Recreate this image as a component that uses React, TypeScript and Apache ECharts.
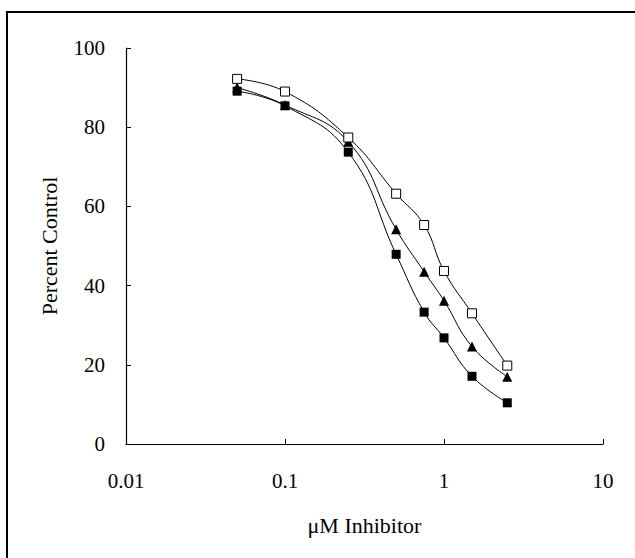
import React, { useEffect, useRef } from "react";
import * as echarts from "echarts";

const concentrations = [0.05, 0.1, 0.25, 0.5, 0.75, 1, 1.5, 2.5];
const openSquare = [92.2, 89.0, 77.4, 63.2, 55.3, 43.7, 33.0, 19.8];
const triangle = [90.0, 85.6, 76.3, 54.2, 43.5, 36.2, 24.6, 17.0];
const filledSquare = [89.1, 85.4, 73.7, 47.9, 33.3, 26.8, 17.1, 10.4];
const xTicks = [0.01, 0.1, 1, 10];
const yTicks = [0, 20, 40, 60, 80, 100];

const FONT = "'Liberation Serif', 'Times New Roman', serif";

const pairs = (ys: number[]) => concentrations.map((x, i) => [x, ys[i]]);

export default function App() {
  const ref = useRef<HTMLDivElement>(null);
  useEffect(() => {
    if (!ref.current) return;
    const chart = echarts.init(ref.current, undefined, { renderer: "svg" });
    const lineBase = {
      type: "line" as const,
      smooth: 0.45,
      lineStyle: { color: "#000", width: 1 },
      symbolSize: 9,
    };
    chart.setOption({
      animation: false,
      backgroundColor: "#fff",
      grid: { left: 126, right: 32, top: 48, bottom: 114 },
      graphic: [
        {
          type: "rect",
          shape: { x: 7, y: 12, width: 640, height: 560 },
          style: { fill: "none", stroke: "#000", lineWidth: 2 },
          silent: true,
        },
      ],
      xAxis: {
        type: "log",
        logBase: 10,
        min: 0.01,
        max: 10,
        name: "\u03bcM Inhibitor",
        nameLocation: "middle",
        nameGap: 70,
        nameTextStyle: { fontFamily: FONT, fontSize: 22, color: "#000" },
        axisLine: { lineStyle: { color: "#000", width: 1.2 } },
        axisTick: { inside: true, length: 5, lineStyle: { color: "#000" } },
        splitLine: { show: false },
        minorTick: { show: false },
        axisLabel: {
          fontFamily: FONT,
          fontSize: 21,
          color: "#000",
          margin: 26,
          formatter: (v: number) => {
            const t = xTicks.find((k) => Math.abs(k - v) / k < 1e-6);
            return t === undefined ? "" : String(t);
          },
        },
      },
      yAxis: {
        type: "value",
        min: yTicks[0],
        max: yTicks[yTicks.length - 1],
        interval: 20,
        name: "Percent Control",
        nameLocation: "middle",
        nameGap: 66,
        nameTextStyle: { fontFamily: FONT, fontSize: 22, color: "#000" },
        axisLine: { show: true, lineStyle: { color: "#000", width: 1.2 } },
        axisTick: { show: true, inside: true, length: 5, lineStyle: { color: "#000" } },
        splitLine: { show: false },
        axisLabel: { fontFamily: FONT, fontSize: 21, color: "#000", margin: 21 },
      },
      series: [
        {
          ...lineBase,
          name: "triangle",
          data: pairs(triangle),
          symbol: "triangle",
          symbolSize: 10,
          itemStyle: { color: "#000", borderColor: "#000", borderWidth: 0 },
        },
        {
          ...lineBase,
          name: "filled",
          data: pairs(filledSquare),
          symbol: "rect",
          itemStyle: { color: "#000", borderColor: "#000", borderWidth: 0 },
        },
        {
          ...lineBase,
          name: "open",
          data: pairs(openSquare),
          symbol: "rect",
          itemStyle: { color: "#fff", borderColor: "#000", borderWidth: 1 },
        },
      ],
    });
    return () => chart.dispose();
  }, []);
  return (
    <div
      ref={ref}
      style={{ position: "absolute", left: 0, top: 0, width: 635, height: 558 }}
    />
  );
}
